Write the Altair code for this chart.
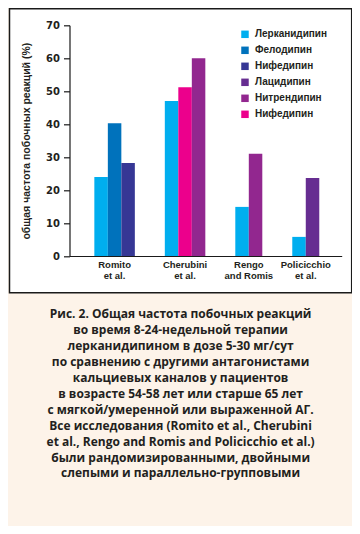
import json
import altair as alt
import pandas as pd

# ---- data ----
studies = ["Romito\net al.", "Cherubini\net al.", "Rengo\nand Romis", "Policicchio\net al."]
drug_names = ["Лерканидипин", "Фелодипин", "Нифедипин", "Лацидипин", "Нитрендипин", "Нифедипин"]
drug_colors = ["#00aeef", "#0072bc", "#363795", "#662d91", "#92278f", "#ec008c"]
study_drugs = [[0, 1, 2], [0, 5, 4], [0, 4], [0, 3]]
study_values = [[24.0, 40.3, 28.2], [47.0, 51.2, 60.0], [14.9, 31.0], [5.8, 23.7]]
y_ticks = [0, 10, 20, 30, 40, 50, 60, 70]
y_title = "общая частота побочных реакций (%)"
caption = [
    "Рис. 2. Общая частота побочных реакций",
    "во время 8-24-недельной терапии",
    "лерканидипином в дозе 5-30 мг/сут",
    "по сравнению с другими антагонистами",
    "кальциевых каналов у пациентов",
    "в возрасте 54-58 лет или старше 65 лет",
    "с мягкой/умеренной или выраженной АГ.",
    "Все исследования (Romito et al., Cherubini",
    "et al., Rengo and Romis and Policicchio et al.)",
    "были рандомизированными, двойными",
    "слепыми и параллельно-групповыми",
]

# ---- layout constants (in bar-width units) ----
START = 1.84
GAP = 2.22
XMAX = 20.16
W, H = 272.2, 230.7

rows, centers = [], []
pos = START
for s, ds, vs in zip(studies, study_drugs, study_values):
    for j, (d, v) in enumerate(zip(ds, vs)):
        rows.append({"study": s, "key": str(d), "value": v, "x0": pos + j, "x1": pos + j + 1})
    centers.append({"label": s, "xc": pos + len(ds) / 2})
    pos += len(ds) + GAP

df = pd.DataFrame(rows)
cdf = pd.DataFrame(centers)

label_expr = json.dumps(drug_names, ensure_ascii=False) + "[toNumber(datum.value)]"

frame = alt.Chart(pd.DataFrame({"f": [0]})).mark_rect(
    fill="white", stroke="#1a1a1a", strokeWidth=1.5
).encode(
    x=alt.value(-60), x2=alt.value(282.2), y=alt.value(-16.5), y2=alt.value(267.4)
)

bars = alt.Chart(df).mark_bar().encode(
    x=alt.X("x0:Q", scale=alt.Scale(domain=[0, XMAX], nice=False, zero=True),
            axis=alt.Axis(labels=False, ticks=False, title=None, grid=False, zindex=2,
                          domainColor="#1a1a1a", domainWidth=1.2)),
    x2="x1",
    y=alt.Y("value:Q", scale=alt.Scale(domain=[0, 70], nice=False),
            axis=alt.Axis(values=y_ticks, title=y_title, grid=False, zindex=2,
                          domainColor="#1a1a1a", domainWidth=1.2,
                          tickColor="#1a1a1a", tickSize=6, tickWidth=1.2,
                          labelFont="DejaVu Sans", labelFontWeight="bold", labelFontSize=10,
                          labelColor="#231f20", labelPadding=4,
                          titleFont="Liberation Sans", titleFontWeight="bold", titleFontSize=10.5,
                          titleColor="#231f20", titlePadding=14)),
    y2=alt.datum(0),
    color=alt.Color("key:N",
                    scale=alt.Scale(domain=[str(i) for i in range(len(drug_names))], range=drug_colors),
                    legend=alt.Legend(title=None, orient="none", legendX=170.5, legendY=4,
                                      symbolType="square", symbolSize=56, symbolStrokeWidth=0,
                                      labelExpr=label_expr, labelFont="Liberation Sans",
                                      labelFontWeight="bold", labelFontSize=10, labelColor="#231f20",
                                      labelOffset=5, rowPadding=6)),
)

labels = alt.Chart(cdf).mark_text(
    baseline="top", lineBreak="\n", font="Liberation Sans", fontWeight="bold",
    fontSize=9.5, lineHeight=11, color="#231f20"
).encode(x="xc:Q", y=alt.value(H + 4), text="label:N")

chart = alt.layer(frame, bars, labels).properties(
    width=W, height=H,
    autosize=alt.AutoSizeParams(type="none"),
    padding={"left": 61.5, "top": 17.3, "right": 10, "bottom": 270},
    background="#fdf3e9",
    title=alt.TitleParams(text=caption, orient="bottom", anchor="middle", frame="bounds",
                          font="Open Sans", fontSize=12, fontWeight="bold",
                          lineHeight=15.9, offset=16, color="#231f20"),
).configure_view(stroke=None)

chart.save("out.html", embed_options={"renderer": "svg", "actions": False})
